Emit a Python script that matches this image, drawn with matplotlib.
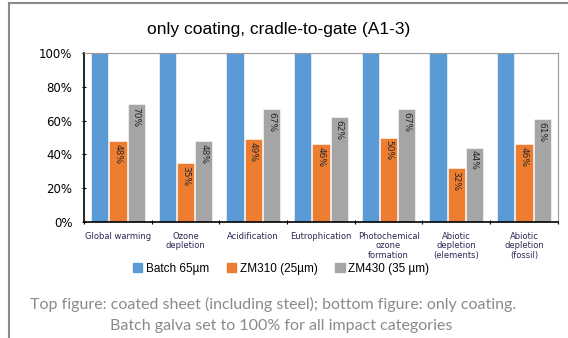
import numpy as np
import matplotlib.pyplot as plt
from matplotlib.lines import Line2D
from matplotlib.patches import Patch
from matplotlib.ticker import PercentFormatter

categories = ["Global warming", "Ozone\ndepletion", "Acidification", "Eutrophication",
              "Photochemical\nozone\nformation", "Abiotic\ndepletion\n(elements)",
              "Abiotic\ndepletion\n(fossil)"]
series_names = ["Batch 65µm", "ZM310 (25µm)", "ZM430 (35 µm)"]
batch = [100, 100, 100, 100, 100, 100, 100]
zm310 = [48, 35, 49, 46, 50, 32, 46]
zm430 = [70, 48, 67, 62, 67, 44, 61]
colors = ["#5B9BD5", "#ED7D31", "#A5A5A5"]

fig = plt.figure(figsize=(5.68, 3.38), dpi=100)
ax = fig.add_axes([0.148, 0.343, 0.834, 0.50])

x = np.arange(len(categories))
w = 0.255
offs = [-0.27, 0.0, 0.27]
for vals, off, c, name in zip([batch, zm310, zm430], offs, colors, series_names):
    bars = ax.bar(x + off, vals, w, color=c, edgecolor="white", linewidth=0.4, label=name)
    if name != series_names[0]:
        for b, v in zip(bars, vals):
            ax.annotate("%d%%" % v, (b.get_x() + b.get_width() / 2, v),
                        xytext=(0, -2), textcoords="offset points",
                        ha="center", va="top", rotation=-90, fontsize=6.5, color="#262626")

ax.set_xlim(-0.5, len(categories) - 0.5)
ax.set_ylim(0, 100)
ax.set_yticks(np.arange(0, 101, 20))
ax.yaxis.set_major_formatter(PercentFormatter(decimals=0))
ax.tick_params(axis="y", labelsize=8.5, length=3, direction="inout", width=0.8, pad=7)
ax.set_xticks(x)
ax.set_xticklabels(categories, fontsize=6, color="#2a2a55", linespacing=1.1)
ax.tick_params(axis="x", length=0, pad=7)
ax.set_xticks(np.arange(-0.5, len(categories)), minor=True)
ax.tick_params(axis="x", which="minor", length=3, direction="inout", width=0.8)

for s in ["left", "bottom"]:
    ax.spines[s].set_color("black")
    ax.spines[s].set_linewidth(1.2)
for s in ["top", "right"]:
    ax.spines[s].set_color("#9a9a9a")
    ax.spines[s].set_linewidth(0.8)

fig.text(0.49, 0.912, "only coating, cradle-to-gate (A1-3)", ha="center", va="center",
         fontsize=12.5, family="Liberation Sans")

handles = [Patch(color=c) for c in colors]
fig.legend(handles, series_names, loc="center", bbox_to_anchor=(0.495, 0.205), ncol=3,
           frameon=False, handlelength=0.8, handleheight=0.8,
           handletextpad=0.3, columnspacing=1.5, prop={"family": "Liberation Sans", "size": 8.5})

fig.text(0.48, 0.098, "Top figure: coated sheet (including steel); bottom figure: only coating.",
         ha="center", va="center", fontsize=11.5, color="#8a8a8a", family="Lato")
fig.text(0.495, 0.035, "Batch galva set to 100% for all impact categories",
         ha="center", va="center", fontsize=11.5, color="#8a8a8a", family="Lato")

# outer frame (left and top edges only visible)
fig.add_artist(Line2D([9 / 568, 9 / 568], [0, 1 - 3 / 338], transform=fig.transFigure,
                      color="#8a8a8a", linewidth=1.5))
fig.add_artist(Line2D([9 / 568, 1], [1 - 3 / 338, 1 - 3 / 338], transform=fig.transFigure,
                      color="#8a8a8a", linewidth=1.5))

fig.savefig("out.png", dpi=100)
